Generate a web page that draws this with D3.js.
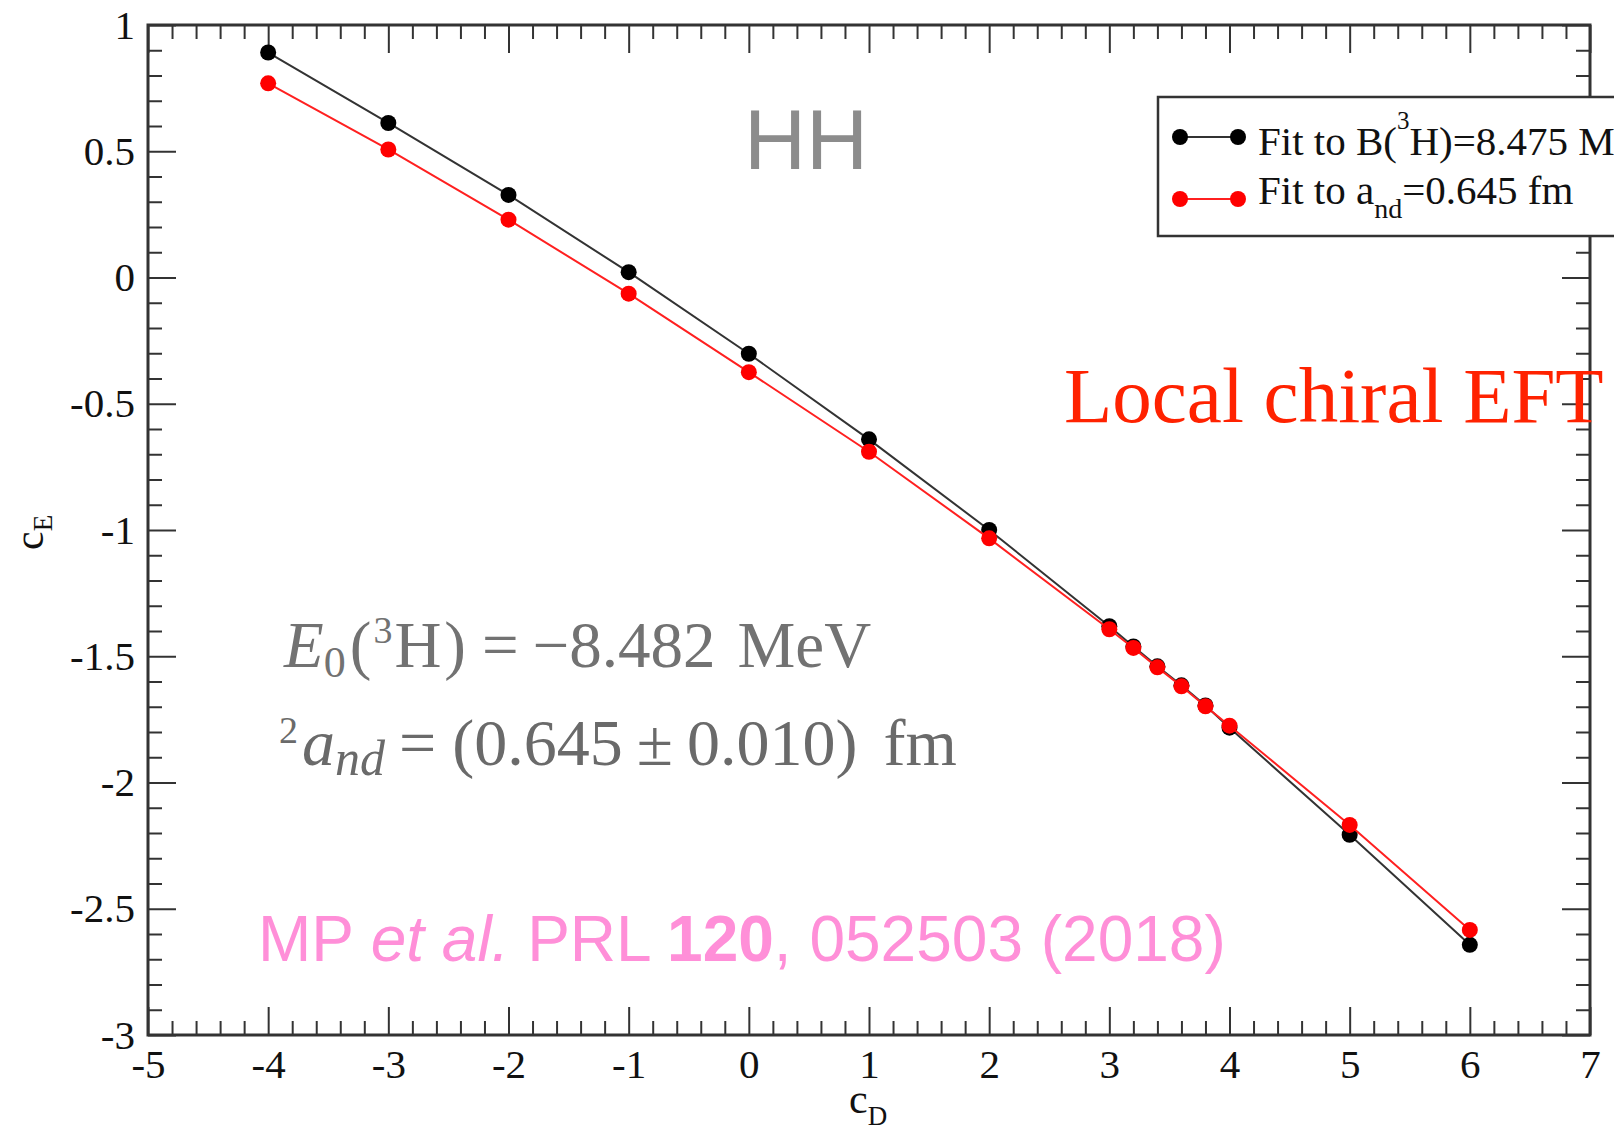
<html>

<head>
    <title>cD - cE fit lines</title>
    <script src="https://d3js.org/d3.v7.min.js"></script>
    <style>
        body { margin: 0; background: #fff; }
    </style>
</head>

<body>
    <div id="chart"></div>
    <script type="text/javascript">
    // values
    var cD = [-4, -3, -2, -1, 0, 1, 2, 3, 3.2, 3.4, 3.6, 3.8, 4, 5, 6];
    var cE_B3H = [0.891, 0.612, 0.327, 0.021, -0.302, -0.641, -1.000, -1.381, -1.461, -1.540, -1.615, -1.695, -1.783, -2.207, -2.643];
    var cE_and = [0.769, 0.507, 0.229, -0.064, -0.375, -0.690, -1.033, -1.393, -1.467, -1.544, -1.619, -1.698, -1.775, -2.168, -2.584];
    var xTicks = [-5, -4, -3, -2, -1, 0, 1, 2, 3, 4, 5, 6, 7];
    var yTicks = [1, 0.5, 0, -0.5, -1, -1.5, -2, -2.5, -3];

    var serif = "Liberation Serif, Times New Roman, serif",
        sans = "Liberation Sans, Arial, Helvetica, sans-serif";

    var margin = { top: 25, right: 24, bottom: 90, left: 148 },
        width = 1614 - margin.left - margin.right,
        height = 1125 - margin.top - margin.bottom;

    var xScale = d3.scaleLinear().domain([-5, 7]).range([0, width]);
    var yScale = d3.scaleLinear().domain([-3, 1]).range([height, 0]);

    // minor ticks: 0.2 on x, 0.1 on y
    var xMinor = d3.range(0, 61).filter(function(i) { return i % 5 != 0; }).map(function(i) { return -5 + i * 0.2; });
    var yMinor = d3.range(0, 41).filter(function(i) { return i % 5 != 0; }).map(function(i) { return -3 + i * 0.1; });

    var root = d3.select("#chart").append("svg")
        .attr("width", 1614)
        .attr("height", 1125)
        .attr("font-family", serif);
    var svg = root.append("g")
        .attr("transform", "translate(" + margin.left + "," + margin.top + ")");

    function styleAxis(g) {
        g.select(".domain").remove();
        g.selectAll("line").attr("stroke", "#333").attr("stroke-width", 2);
        g.selectAll("text")
            .attr("font-family", serif)
            .attr("font-size", 41)
            .attr("fill", "#111");
    }

    // bottom
    svg.append("g")
        .attr("transform", "translate(0," + height + ")")
        .call(d3.axisBottom(xScale).tickValues(xTicks).tickSize(-28).tickPadding(14).tickFormat(function(d) { return d; }))
        .call(styleAxis);
    svg.append("g")
        .attr("transform", "translate(0," + height + ")")
        .call(d3.axisBottom(xScale).tickValues(xMinor).tickSize(-14).tickFormat(""))
        .call(styleAxis);
    // top
    svg.append("g")
        .call(d3.axisTop(xScale).tickValues(xTicks).tickSize(-28).tickFormat(""))
        .call(styleAxis);
    svg.append("g")
        .call(d3.axisTop(xScale).tickValues(xMinor).tickSize(-14).tickFormat(""))
        .call(styleAxis);
    // left
    svg.append("g")
        .call(d3.axisLeft(yScale).tickValues(yTicks).tickSize(-28).tickPadding(13).tickFormat(function(d) { return d; }))
        .call(styleAxis);
    svg.append("g")
        .call(d3.axisLeft(yScale).tickValues(yMinor).tickSize(-14).tickFormat(""))
        .call(styleAxis);
    // right
    svg.append("g")
        .attr("transform", "translate(" + width + ",0)")
        .call(d3.axisRight(yScale).tickValues(yTicks).tickSize(-28).tickFormat(""))
        .call(styleAxis);
    svg.append("g")
        .attr("transform", "translate(" + width + ",0)")
        .call(d3.axisRight(yScale).tickValues(yMinor).tickSize(-14).tickFormat(""))
        .call(styleAxis);

    // frame
    svg.append("rect")
        .attr("width", width)
        .attr("height", height)
        .attr("fill", "none")
        .attr("stroke", "#333")
        .attr("stroke-width", 3);

    // axis labels
    var xl = root.append("text")
        .attr("x", 849)
        .attr("y", 1113)
        .attr("font-size", 42)
        .attr("fill", "#111");
    xl.append("tspan").text("c");
    xl.append("tspan").attr("font-size", 27).attr("dy", 12).text("D");

    var yl = root.append("text")
        .attr("transform", "translate(43,550) rotate(-90)")
        .attr("font-size", 42)
        .attr("fill", "#111");
    yl.append("tspan").text("c");
    yl.append("tspan").attr("font-size", 27).attr("dy", 9).text("E");

    // series
    var series = [
        { values: cE_B3H, line: "#333", dot: "#000" },
        { values: cE_and, line: "#ff2020", dot: "#ff0000" }
    ];
    var vline = d3.line()
        .x(function(d, i) { return xScale(cD[i]); })
        .y(function(d) { return yScale(d); });

    series.forEach(function(s) {
        svg.append("path")
            .attr("fill", "none")
            .attr("stroke", s.line)
            .attr("stroke-width", 2)
            .attr("d", vline(s.values));
        svg.selectAll(null)
            .data(s.values)
            .enter()
            .append("circle")
            .attr("r", 8)
            .attr("fill", s.dot)
            .attr("cx", function(d, i) { return xScale(cD[i]); })
            .attr("cy", function(d) { return yScale(d); });
    });

    // legend (white box over the right axis, runs off the edge)
    root.append("rect")
        .attr("x", 1158)
        .attr("y", 97)
        .attr("width", 600)
        .attr("height", 139)
        .attr("fill", "#fff")
        .attr("stroke", "#333")
        .attr("stroke-width", 2.5);

    var legendY = [137, 199];
    series.forEach(function(s, i) {
        root.append("line")
            .attr("x1", 1180).attr("x2", 1238)
            .attr("y1", legendY[i]).attr("y2", legendY[i])
            .attr("stroke", s.line)
            .attr("stroke-width", 2);
        [1180, 1238].forEach(function(x) {
            root.append("circle").attr("cx", x).attr("cy", legendY[i]).attr("r", 8).attr("fill", s.dot);
        });
    });

    var l1 = root.append("text").attr("x", 1258).attr("y", 155).attr("font-size", 41).attr("fill", "#111");
    l1.append("tspan").text("Fit to B(");
    l1.append("tspan").attr("font-size", 25).attr("dy", -26).text("3");
    l1.append("tspan").attr("dy", 26).text("H)=8.475 MeV");

    var l2 = root.append("text").attr("x", 1258).attr("y", 204).attr("font-size", 41).attr("fill", "#111");
    l2.append("tspan").text("Fit to a");
    l2.append("tspan").attr("font-size", 28).attr("dy", 14).text("nd");
    l2.append("tspan").attr("dy", -14).text("=0.645 fm");

    // annotations
    root.append("text")
        .attr("x", 744)
        .attr("y", 169)
        .attr("font-family", sans)
        .attr("font-size", 86)
        .attr("fill", "#8c8c8c")
        .text("HH");

    root.append("text")
        .attr("x", 1064)
        .attr("y", 422)
        .attr("font-size", 79)
        .attr("fill", "#ff2200")
        .text("Local chiral EFT");

    var e1 = root.append("text").attr("x", 284).attr("y", 667).attr("font-size", 65).attr("fill", "#727272");
    e1.append("tspan").attr("font-style", "italic").text("E");
    e1.append("tspan").attr("font-size", 44).attr("dy", 10).text("0");
    e1.append("tspan").attr("dy", -10).attr("dx", 4).text("(");
    e1.append("tspan").attr("font-size", 38).attr("dy", -24).attr("dx", 2).text("3");
    e1.append("tspan").attr("dy", 24).attr("dx", 2).text("H");
    e1.append("tspan").attr("dx", 3).text(")");
    e1.append("tspan").attr("dx", 16).text("=");
    e1.append("tspan").attr("dx", 14).text("\u22128.482");
    e1.append("tspan").attr("dx", 22).text("MeV");

    var e2 = root.append("text").attr("x", 279).attr("y", 765).attr("font-size", 66).attr("fill", "#6a6a6a");
    e2.append("tspan").attr("font-size", 38).attr("dy", -22).text("2");
    e2.append("tspan").attr("font-style", "italic").attr("dy", 22).attr("dx", 4).text("a");
    e2.append("tspan").attr("font-style", "italic").attr("font-size", 50).attr("dy", 10).text("nd");
    e2.append("tspan").attr("dy", -10).attr("dx", 14).text("=");
    e2.append("tspan").attr("dx", 16).text("(0.645");
    e2.append("tspan").attr("dx", 14).text("\u00b1");
    e2.append("tspan").attr("dx", 14).text("0.010)");
    e2.append("tspan").attr("dx", 26).text("fm");

    var ref = root.append("text").attr("x", 258).attr("y", 961)
        .attr("font-family", sans)
        .attr("font-size", 64)
        .attr("fill", "#ff8fd8");
    ref.append("tspan").text("MP ");
    ref.append("tspan").attr("font-style", "italic").text("et al.");
    ref.append("tspan").text(" PRL ");
    ref.append("tspan").attr("font-weight", "bold").text("120");
    ref.append("tspan").text(", 052503 (2018)");
    </script>
</body>

</html>
